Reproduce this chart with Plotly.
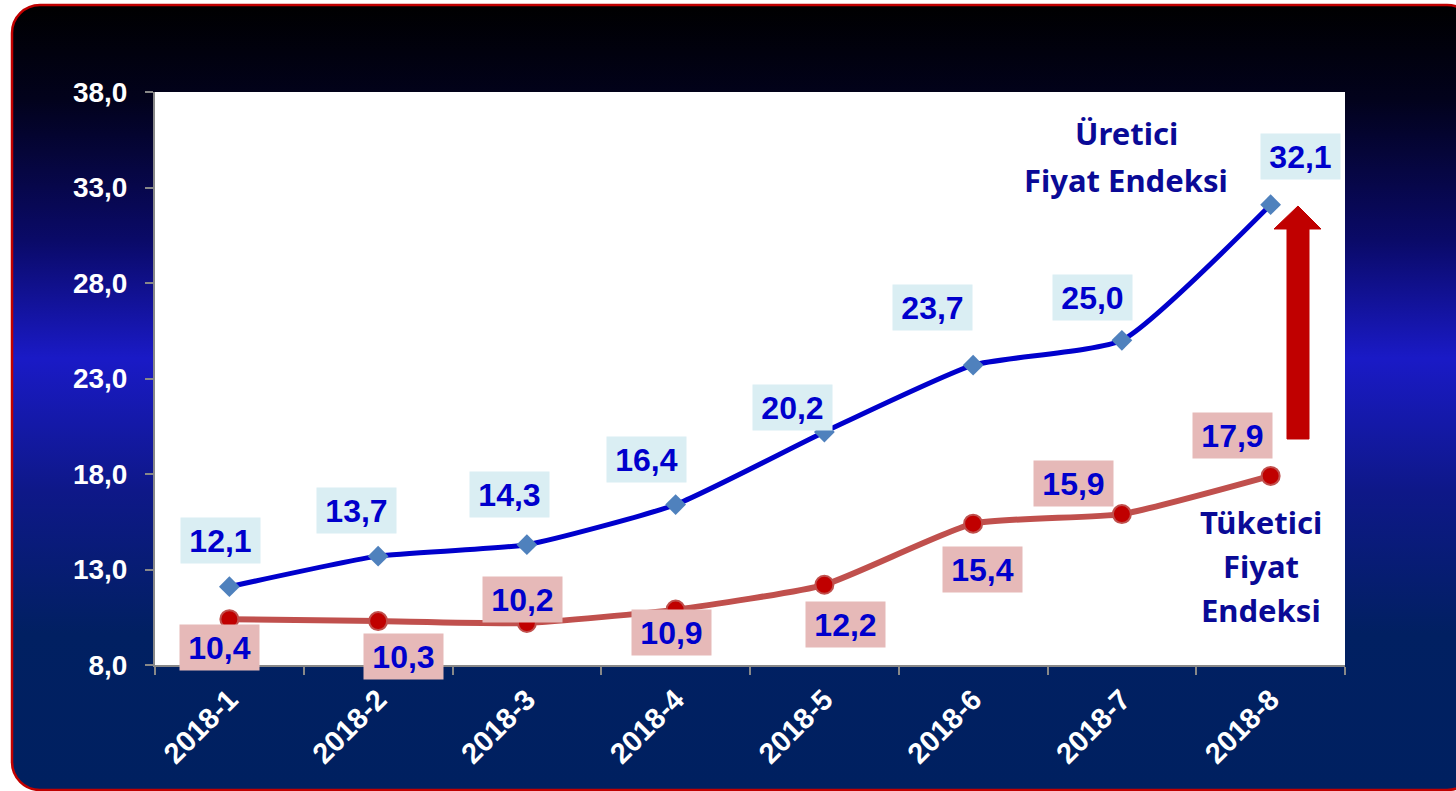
import base64

import plotly.graph_objects as go

W, H = 1456, 791
# plot area in pixels
PL, PR, PT, PB = 155, 1345, 92, 665

periods = ["2018-1", "2018-2", "2018-3", "2018-4", "2018-5", "2018-6", "2018-7", "2018-8"]
ufe = [12.1, 13.7, 14.3, 16.4, 20.2, 23.7, 25.0, 32.1]
tufe = [10.4, 10.3, 10.2, 10.9, 12.2, 15.4, 15.9, 17.9]

y_range = [8, 38]
y_step = 5

ufe_title = ["Üretici", "Fiyat Endeksi"]
tufe_title = ["Tüketici", "Fiyat", "Endeksi"]

# label offsets in pixels (dx, dy up)
ufe_shift = [(-9, 46), (-22, 46), (-17, 50), (-29, 45), (-32, 24), (-41, 58), (-29, 43), (30, 48)]
tufe_shift = [(-10, -28), (25, -35), (-4, 23), (-4, -23), (21, -40), (9, -46), (-48, 31), (-38, 40)]

BLUE_LINE = "#0000cc"
BLUE_MARK = "#4f81bd"
RED_LINE = "#c0504d"
RED_MARK = "#c00000"
LABEL_TXT = "#0000cc"
TITLE_TXT = "#0a0a96"


def px_x(x):
    return (x - PL) / (PR - PL)


def px_y(y):
    return (PB - y) / (PB - PT)


def fmt(v):
    return f"{v:.1f}".replace(".", ",")


svg = f"""<svg xmlns="http://www.w3.org/2000/svg" width="{W}" height="{H}" viewBox="0 0 {W} {H}" preserveAspectRatio="none">
<defs><linearGradient id="g" x1="0" y1="0" x2="0" y2="1">
<stop offset="0" stop-color="#000000"/>
<stop offset="0.12" stop-color="#02021c"/>
<stop offset="0.3" stop-color="#0a0a68"/>
<stop offset="0.45" stop-color="#1a1ac6"/>
<stop offset="0.62" stop-color="#0e1888"/>
<stop offset="0.8" stop-color="#012062"/>
<stop offset="1" stop-color="#002060"/>
</linearGradient></defs>
<rect x="0" y="0" width="{W}" height="{H}" fill="#ffffff"/>
<rect x="12" y="5" width="1463" height="785" rx="28" ry="28" fill="url(#g)" stroke="#c00000" stroke-width="2.5"/>
</svg>"""
svg_uri = "data:image/svg+xml;base64," + base64.b64encode(svg.encode()).decode()

fig = go.Figure()

fig.add_trace(go.Scatter(
    x=periods, y=tufe, mode="lines+markers",
    line=dict(color=RED_LINE, width=6, shape="spline", smoothing=0.5),
    marker=dict(symbol="circle", size=18, color=RED_MARK, line=dict(color=RED_LINE, width=2)),
    hoverinfo="x+y",
))
fig.add_trace(go.Scatter(
    x=periods, y=ufe, mode="lines+markers",
    line=dict(color=BLUE_LINE, width=5, shape="spline", smoothing=0.5),
    marker=dict(symbol="diamond", size=16, color=BLUE_MARK),
    hoverinfo="x+y",
))

annotations = []
for series, shifts, bg in ((ufe, ufe_shift, "#daeef3"), (tufe, tufe_shift, "#e6b9b8")):
    for p, v, (dx, dy) in zip(periods, series, shifts):
        annotations.append(dict(
            x=p, y=v, xref="x", yref="y", text=fmt(v), showarrow=False,
            xshift=dx, yshift=dy, bgcolor=bg, borderpad=4, width=71, height=37,
            font=dict(family="Liberation Sans, Arial", size=32, color=LABEL_TXT, weight="bold"),
        ))

for i, line in enumerate(ufe_title):
    annotations.append(dict(
        x=px_x(1126), y=px_y(133 + i * 47), xref="paper", yref="paper", text=line,
        showarrow=False, xanchor="center", yanchor="middle",
        font=dict(family="Noto Sans", size=31, color=TITLE_TXT, weight="bold"),
    ))
for i, line in enumerate(tufe_title):
    annotations.append(dict(
        x=px_x(1261), y=px_y(522 + i * 44), xref="paper", yref="paper", text=line,
        showarrow=False, xanchor="center", yanchor="middle",
        font=dict(family="Noto Sans", size=31, color=TITLE_TXT, weight="bold"),
    ))

# up arrow at the right
arrow_pts = [(1298, 206), (1321, 229), (1309, 229), (1309, 439), (1287, 439), (1287, 229), (1274, 229)]
arrow_path = "M " + " L ".join(f"{px_x(a):.5f},{px_y(b):.5f}" for a, b in arrow_pts) + " Z"

fig.update_layout(
    width=W, height=H,
    margin=dict(l=PL, r=W - PR, t=PT, b=H - PB, pad=0),
    paper_bgcolor="#ffffff",
    plot_bgcolor="#ffffff",
    showlegend=False,
    separators=",.",
    images=[dict(
        source=svg_uri, xref="paper", yref="paper",
        x=px_x(0), y=px_y(0), sizex=W / (PR - PL), sizey=H / (PB - PT),
        xanchor="left", yanchor="top", sizing="stretch", layer="below",
    )],
    shapes=[
        dict(type="rect", xref="paper", yref="paper", x0=0, x1=1, y0=0, y1=1,
             fillcolor="#ffffff", line=dict(width=0), layer="below"),
        dict(type="path", xref="paper", yref="paper", path=arrow_path,
             fillcolor="#c00000", line=dict(color="#c00000", width=1), layer="above"),
    ],
    annotations=annotations,
    xaxis=dict(
        type="category", range=[-0.5, len(periods) - 0.5],
        showgrid=False, zeroline=False, showline=True, linecolor="#888888", linewidth=2,
        ticks="outside", tickson="boundaries", ticklen=8, tickcolor="#888888", tickwidth=2,
        tickangle=-45, ticklabelstandoff=4,
        tickfont=dict(family="Liberation Sans, Arial", size=29, color="#ffffff", weight="bold"),
    ),
    yaxis=dict(
        range=y_range, tick0=y_range[0], dtick=y_step, tickformat=".1f",
        showgrid=False, zeroline=False, showline=True, linecolor="#888888", linewidth=2,
        ticks="outside", ticklen=8, tickcolor="#888888", tickwidth=2, ticklabelstandoff=12,
        tickfont=dict(family="Liberation Sans, Arial", size=28, color="#ffffff", weight="bold"),
    ),
)

fig.write_html(
    "out.html",
    config={"displayModeBar": False},
    post_script="document.body.style.margin='0';document.body.style.overflow='hidden';",
)
